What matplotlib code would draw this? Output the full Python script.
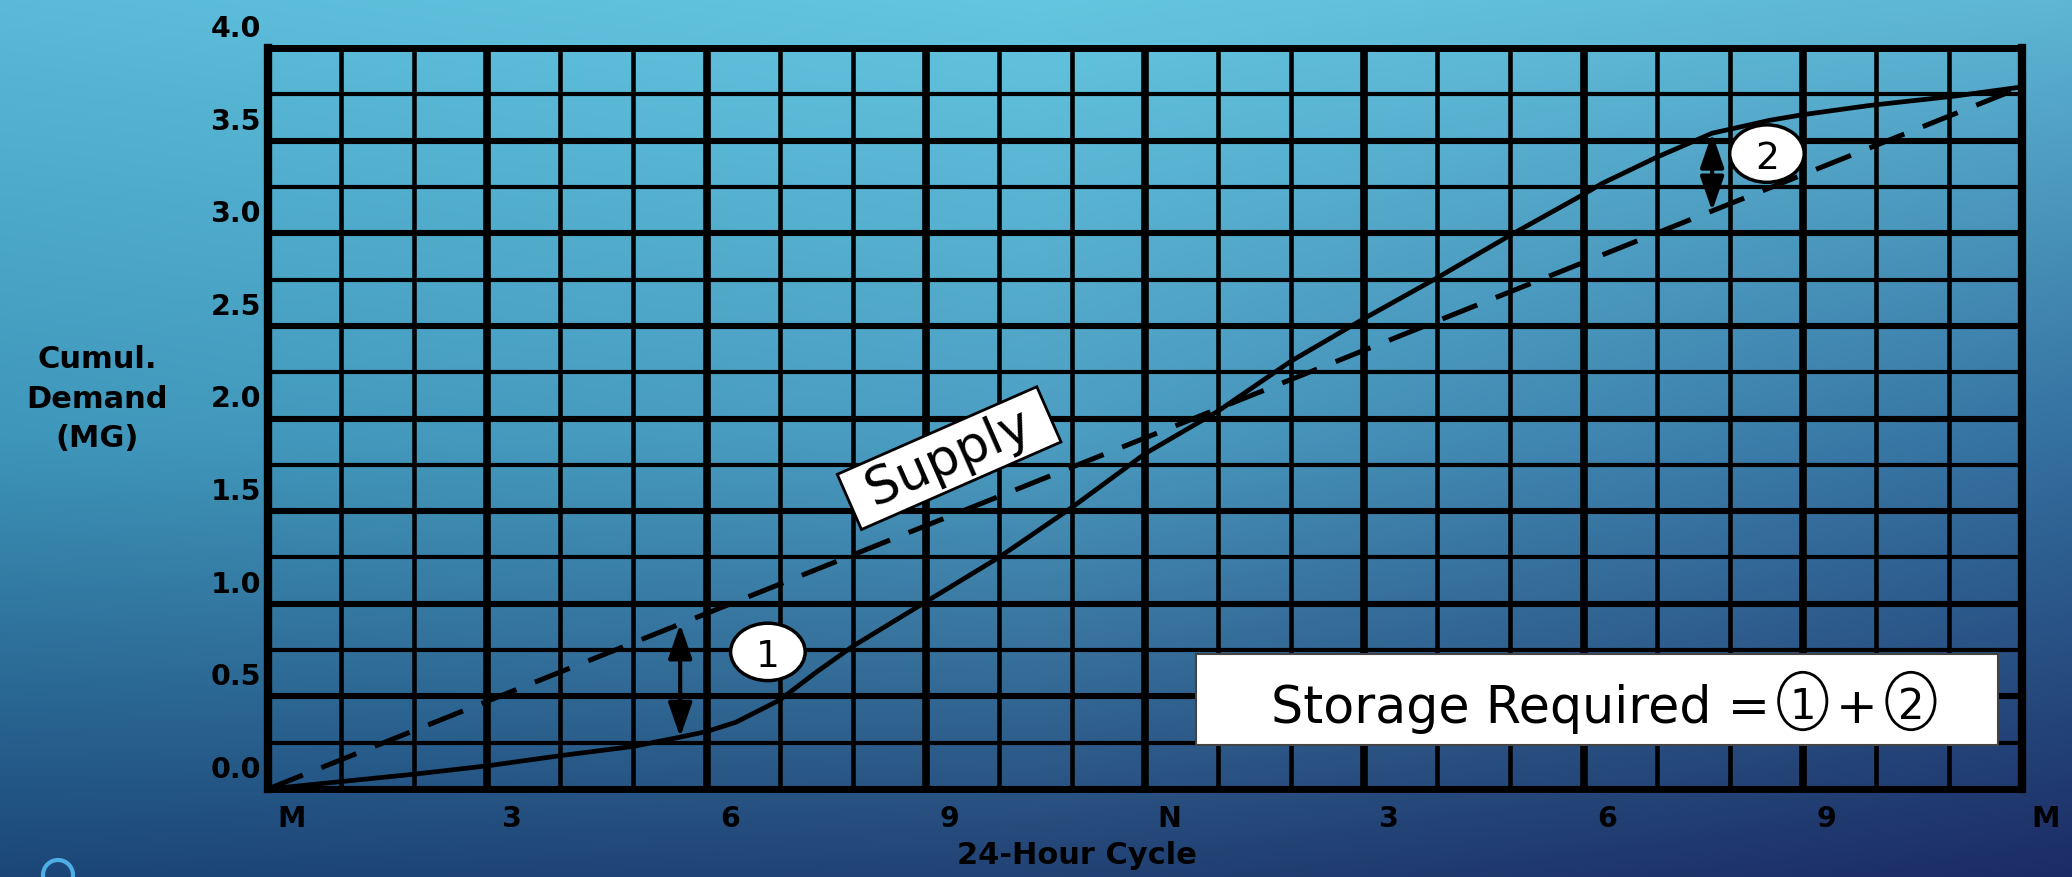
import numpy as np
import matplotlib
matplotlib.use('Agg')
import matplotlib.pyplot as plt
from matplotlib import transforms
from matplotlib.patches import Ellipse, Rectangle, Circle


plt.rcParams['font.family'] = ['DejaVu Sans']

# cumulative demand curve (hours after midnight, MG)
hours = [0, 0.5, 1, 2, 3, 4, 5, 5.64, 6, 6.4, 7, 7.5, 8, 9, 10, 11, 12, 13,
	14, 15, 16, 17, 18, 18.26, 19, 19.76, 20.55, 21, 21.92, 23.07, 24]
demand = [0.0, 0.02, 0.04, 0.08, 0.125, 0.18, 0.23, 0.28, 0.31, 0.36, 0.48, 0.63,
	0.77, 1.01, 1.25, 1.52, 1.81, 2.04, 2.31, 2.54, 2.76, 2.99, 3.21, 3.27,
	3.41, 3.54, 3.61, 3.64, 3.69, 3.74, 3.79]

# constant-rate supply
supply_hours = [0, 24]
supply = [0.0, 3.79]

# where the storage gaps are marked
gap_hours = [5.64, 19.76]
gap_names = ['1', '2']

x_ticks = [0, 3, 6, 9, 12, 15, 18, 21, 24]
x_labels = ['M', '3', '6', '9', 'N', '3', '6', '9', 'M']
y_ticks = [0.0, 0.5, 1.0, 1.5, 2.0, 2.5, 3.0, 3.5, 4.0]
y_labels = ['0.0', '0.5', '1.0', '1.5', '2.0', '2.5', '3.0', '3.5', '4.0']

W, H = 2072, 878


def background():
	# slide gradient: light cyan at the top, navy at the bottom, darker to the right
	ctrl = np.array([
		[[90, 186, 216], [100, 198, 224], [94, 182, 212]],
		[[62, 150, 186], [76, 158, 194], [52, 112, 160]],
		[[27, 70, 120], [34, 66, 116], [27, 44, 100]],
	], dtype=float) / 255.0
	ny, nx = 220, 440
	ys = np.linspace(0, 1, ny)
	xs = np.linspace(0, 1, nx)
	knots = [0, 0.5, 1]
	cols = np.zeros((ny, 3, 3))
	for j in range(3):
		for c in range(3):
			cols[:, j, c] = np.interp(ys, knots, ctrl[:, j, c])
	img = np.zeros((ny, nx, 3))
	for i in range(ny):
		for c in range(3):
			img[i, :, c] = np.interp(xs, knots, cols[i, :, c])
	return img


fig = plt.figure(figsize=(W / 100, H / 100), dpi=100)

bg = fig.add_axes([0, 0, 1, 1])
bg.imshow(background(), extent=[0, W, H, 0], aspect='auto', interpolation='bilinear')
bg.set_xlim(0, W)
bg.set_ylim(H, 0)
bg.axis('off')
bg.add_patch(Circle((58, 876), 15, fill=False, ec='#4eaee6', lw=3))

ax = fig.add_axes([268 / W, 88 / H, 1754 / W, 741 / H])
ax.set_facecolor('none')
ax.set_xlim(0, 24)
ax.set_ylim(0, 4)

ax.set_xticks(x_ticks)
ax.set_xticklabels(x_labels)
ax.set_xticks(np.arange(0, 25, 1), minor=True)
ax.set_yticks(y_ticks)
ax.set_yticklabels(y_labels)
ax.set_yticks(np.arange(0, 4.01, 0.25), minor=True)
ax.tick_params(which='both', length=0)
ax.tick_params(axis='x', pad=11, labelsize=20.5)
ax.tick_params(axis='y', pad=5, labelsize=20.5)

# the labels on the slide sit a little off the grid lines
for lbl in ax.get_xticklabels():
	lbl.set_fontweight('bold')
	lbl.set_transform(lbl.get_transform() + transforms.ScaledTranslation(0.24, 0, fig.dpi_scale_trans))
for lbl in ax.get_yticklabels():
	lbl.set_fontweight('bold')
	lbl.set_transform(lbl.get_transform() + transforms.ScaledTranslation(0, 0.23, fig.dpi_scale_trans))

ax.set_axisbelow(True)
ax.grid(which='major', axis='x', color='k', lw=5.5)
ax.grid(which='minor', axis='x', color='k', lw=3.3)
ax.grid(which='major', axis='y', color='k', lw=4.4)
ax.grid(which='minor', axis='y', color='k', lw=3.0)
for side in ['left', 'right']:
	ax.spines[side].set_linewidth(6)
for side in ['top', 'bottom']:
	ax.spines[side].set_linewidth(5)

ax.plot(hours, demand, color='k', lw=3.4, solid_capstyle='round', zorder=3)
ax.plot(supply_hours, supply, color='k', lw=3.6, dashes=(7.5, 4), zorder=3)

# double arrows between demand and supply
for t in gap_hours:
	lo = np.interp(t, hours, demand)
	hi = np.interp(t, supply_hours, supply)
	a, b = min(lo, hi), max(lo, hi)
	ax.annotate('', xy=(t, b), xytext=(t, a),
		arrowprops=dict(arrowstyle='<|-|>,head_length=0.95,head_width=0.33',
			color='k', lw=3, shrinkA=0, shrinkB=0, mutation_scale=22), zorder=4)

# numbered bubbles next to the arrows
for (cx, cy), name in zip([(6.84, 0.74), (20.51, 3.43)], gap_names):
	ax.add_patch(Ellipse((cx, cy), 1.02, 0.31, fc='white', ec='k', lw=2.5, zorder=5))
	ax.text(cx, cy, name, ha='center', va='center_baseline', fontsize=27, zorder=6)

ax.text(9.32, 1.786, ' Supply ', rotation=23.7, rotation_mode='anchor',
	ha='center', va='center', fontsize=37, zorder=6,
	bbox=dict(boxstyle='square,pad=0.1', fc='white', ec='k', lw=2))

# storage note
ax.add_patch(Rectangle((12.70, 0.2375), 10.97, 0.49, fc='white', ec='#444444', lw=1.5, zorder=5))
ax.text(13.72, 0.36, 'Storage Required =', ha='left', va='baseline', fontsize=36.5, zorder=6)
ax.text(21.74, 0.36, '+', ha='center', va='baseline', fontsize=36, zorder=6)
for cx, name in zip([21.0, 22.48], gap_names):
	ax.add_patch(Ellipse((cx, 0.475), 0.66, 0.31, fc='none', ec='k', lw=2, zorder=6))
	ax.text(cx, 0.475, name, ha='center', va='center_baseline', fontsize=30, zorder=6)

fig.text(97 / W, 1 - 399 / H, 'Cumul.\nDemand\n(MG)', ha='center', va='center',
	fontsize=22, fontweight='bold', linespacing=1.45)
fig.text(1077 / W, 1 - 856 / H, '24-Hour Cycle', ha='center', va='center',
	fontsize=22, fontweight='bold')

fig.savefig('out.png', dpi=100)
